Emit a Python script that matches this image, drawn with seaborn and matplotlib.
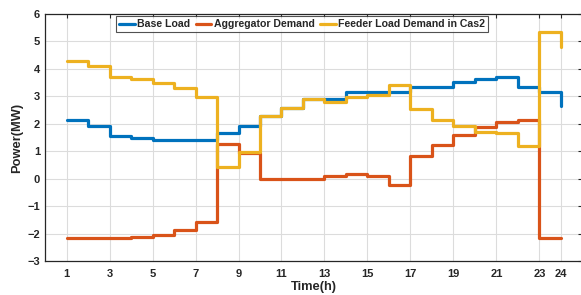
import numpy as np
import pandas as pd
import matplotlib
matplotlib.use("Agg")
import matplotlib.pyplot as plt
import seaborn as sns

hours = list(range(1, 25))
base_load = [2.12, 1.93, 1.56, 1.49, 1.42, 1.42, 1.42, 1.68, 1.93, 2.28, 2.56, 2.89,
             2.89, 3.17, 3.17, 3.17, 3.33, 3.33, 3.53, 3.62, 3.72, 3.33, 3.17, 2.65]
aggregator = [-2.16, -2.16, -2.16, -2.13, -2.07, -1.87, -1.58, 1.25, 0.93, 0.0, 0.0, 0.0,
              0.08, 0.18, 0.11, -0.23, 0.84, 1.21, 1.59, 1.89, 2.06, 2.15, -2.16, -2.16]
feeder = [4.29, 4.10, 3.72, 3.63, 3.47, 3.29, 2.99, 0.41, 0.96, 2.28, 2.56, 2.89,
          2.80, 2.99, 3.06, 3.41, 2.54, 2.14, 1.93, 1.71, 1.65, 1.20, 5.33, 4.81]
names = ["Base Load", "Aggregator Demand", "Feeder Load Demand in Cas2"]
colors = ["#0072BD", "#D95319", "#EDB120"]
xticks = [1, 3, 5, 7, 9, 11, 13, 15, 17, 19, 21, 23, 24]
yticks = list(range(-3, 7))

df = pd.concat([
    pd.DataFrame({"Hour": hours, "Power": vals, "Series": n})
    for n, vals in zip(names, [base_load, aggregator, feeder])
], ignore_index=True)

sns.set_style("white")
plt.rcParams["font.family"] = ["Liberation Sans", "DejaVu Sans"]
plt.rcParams["font.weight"] = "bold"

fig = plt.figure(figsize=(5.81, 2.95), dpi=100)
ax = fig.add_axes([0.0775, 0.1153, 0.925, 0.8372])

sns.lineplot(data=df, x="Hour", y="Power", hue="Series", palette=dict(zip(names, colors)),
             drawstyle="steps-post", linewidth=2.3, estimator=None, ax=ax, legend=True)

ax.set_xlim(0, 25)
ax.set_ylim(-3, 6)
ax.set_xticks(xticks)
ax.set_yticks(yticks)
ax.grid(True, color="#dcdcdc", linewidth=0.8)
ax.set_axisbelow(True)
ax.tick_params(direction="in", top=True, right=True, length=3, width=0.8, labelsize=8,
               colors="#262626")
ax.tick_params(axis="x", pad=6)
ax.tick_params(axis="y", pad=3.5)
for lab in ax.get_xticklabels() + ax.get_yticklabels():
    lab.set_fontweight("bold")
for s in ax.spines.values():
    s.set_color("#262626")
    s.set_linewidth(0.9)
ax.set_xlabel("Time(h)", fontsize=9.3, fontweight="bold", color="#262626", labelpad=1)
ax.set_ylabel("Power(MW)", fontsize=9.3, fontweight="bold", color="#262626", labelpad=3)

leg = ax.legend(loc="upper center", bbox_to_anchor=(0.478, 1.0), ncol=3, frameon=True,
                fancybox=False, edgecolor="#262626", fontsize=7.6, handlelength=1.5,
                handletextpad=0.2, columnspacing=0.5, borderpad=0.3, borderaxespad=0.2)
leg.get_frame().set_linewidth(0.8)
for t in leg.get_texts():
    t.set_fontweight("bold")
    t.set_color("#262626")

fig.savefig("out.png", dpi=100)
